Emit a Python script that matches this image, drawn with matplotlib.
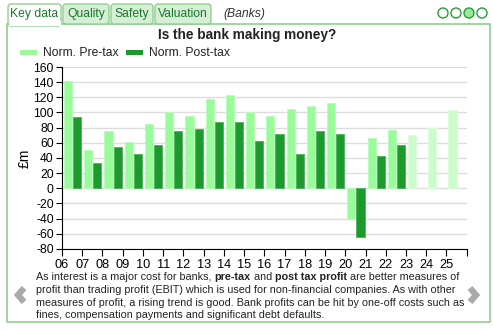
import numpy as np
import matplotlib
matplotlib.use('Agg')
import matplotlib.pyplot as plt
from matplotlib.patches import Rectangle, Circle, FancyBboxPatch

plt.rcParams['font.family'] = ['Liberation Sans', 'DejaVu Sans']
plt.rcParams['axes.unicode_minus'] = False

# data
years = ['06', '07', '08', '09', '10', '11', '12', '13', '14', '15',
         '16', '17', '18', '19', '20', '21', '22', '23', '24', '25']
pre_tax = [141, 50, 76, 61, 85, 100, 95, 118, 123, 100,
           95, 105, 109, 113, -40, 67, 77, 70, 80, 103]
post_tax = [94, 34, 55, 45, 57, 76, 78, 87, 88, 62,
            71, 45, 75, 71, -64, 42, 57, np.nan, np.nan, np.nan]
n_forecast = 3

tabs = ['Key data', 'Quality', 'Safety', 'Valuation']

W, H = 493, 331
fig = plt.figure(figsize=(W / 100, H / 100), dpi=100)

# overlay in pixel coords for the frame, tabs etc
ov = fig.add_axes([0, 0, 1, 1], zorder=0)
ov.set_xlim(0, W)
ov.set_ylim(H, 0)
ov.axis('off')

border = '#8fd08f'
dark_txt = '#1a7a2a'

# main box
ov.plot([7, 7, 490, 490, 62], [24, 322, 322, 24, 24], color=border, lw=1.2)

# tabs
tab_x = [7, 62, 110, 154, 212]
for i, name in enumerate(tabs):
    x0, x1 = tab_x[i], tab_x[i + 1]
    fc = 'white' if i == 0 else '#d6eed6'
    p = FancyBboxPatch((x0 + 1, 4), x1 - x0 - 2, 22 if i == 0 else 20,
                       boxstyle='round,pad=0,rounding_size=3',
                       fc=fc, ec=border, lw=1.0, zorder=2)
    ov.add_patch(p)
    ov.text((x0 + x1) / 2, 14, name, ha='center', va='center',
            fontsize=8.7, color=dark_txt, zorder=3)
# hide bottom line of active tab
ov.add_patch(Rectangle((8.5, 21), 52, 5, fc='white', ec='none', zorder=2.5))
ov.text(223, 14, '(Banks)', ha='left', va='center', fontsize=8.7,
        style='italic', color='#333333')

# page circles
for i, cx in enumerate([443, 456, 469, 482]):
    ov.add_patch(Circle((cx, 13), 5, fc='#9be89b' if i == 2 else 'white',
                        ec='#2a9a3a', lw=1.0))

# title and legend
ov.text(247, 35, 'Is the bank making money?', ha='center', va='center',
        fontsize=9.8, fontweight='bold', color='#222222')
ov.add_patch(Rectangle((20, 50), 17, 5, fc='#99fb99', ec='none'))
ov.text(43, 53, 'Norm. Pre-tax', ha='left', va='center', fontsize=8.7, color='#222222')
ov.add_patch(Rectangle((126, 50), 17, 5, fc='#1d9a2e', ec='none'))
ov.text(149, 53, 'Norm. Post-tax', ha='left', va='center', fontsize=8.7, color='#222222')

# arrows
ov.plot([24, 18, 24], [288, 295, 302], color='#aaaaaa', lw=4.5,
        solid_capstyle='butt', solid_joinstyle='miter')
ov.plot([470, 476, 470], [288, 295, 302], color='#aaaaaa', lw=4.5,
        solid_capstyle='butt', solid_joinstyle='miter')

# footer text with bold pieces
lines = [
    [('As interest is a major cost for banks, ', 'normal'), ('pre-tax', 'bold'),
     (' and ', 'normal'), ('post tax profit', 'bold'),
     (' are better measures of', 'normal')],
    [('profit than trading profit (EBIT) which is used for non-financial companies. As with other', 'normal')],
    [('measures of profit, a rising trend is good. Bank profits can be hit by one-off costs such as', 'normal')],
    [('fines, compensation payments and significant debt defaults.', 'normal')],
]
fig.canvas.draw()
r = fig.canvas.get_renderer()
for li, parts in enumerate(lines):
    x = 36
    y = 277 + li * 12.8
    for s, w in parts:
        t = ov.text(x, y, s, ha='left', va='center', fontsize=7.75,
                    fontweight=w, color='#222222')
        bb = t.get_window_extent(renderer=r)
        x += bb.width

# chart
ax = fig.add_axes([62 / W, 1 - 249 / H, (466.7 - 62) / W, (249 - 67) / H], zorder=1)
ax.set_facecolor('none')
x = np.arange(len(years))
pre_cols = ['#99fb99'] * (len(years) - n_forecast) + ['#ccfccc'] * n_forecast
pre_edge = ['#b8fcb8'] * (len(years) - n_forecast) + ['#dcfedc'] * n_forecast
ax.bar(x + 0.3, pre_tax, 0.4, color=pre_cols, edgecolor=pre_edge, lw=0.6, zorder=3)
ax.bar(x + 0.75, post_tax, 0.4, color='#1d9a2e', edgecolor='#4cb05a', lw=0.6, zorder=3)

ax.set_xlim(0, len(years))
ax.set_xticks(np.arange(len(years) + 1))
ax.set_xticklabels(years + [''], fontsize=9.2)
ax.set_ylim(-80, 160)
ax.set_yticks(np.arange(-80, 161, 20))
ax.tick_params(axis='y', labelsize=8.7, length=4, pad=2)
ax.tick_params(axis='x', length=5, pad=2)
ax.yaxis.grid(True, color='#dddddd', lw=1, zorder=0)
ax.set_axisbelow(True)
for s in ['top', 'right']:
    ax.spines[s].set_visible(False)
ax.set_ylabel('£m', fontsize=10, labelpad=1)

fig.savefig('out.png', dpi=100)
